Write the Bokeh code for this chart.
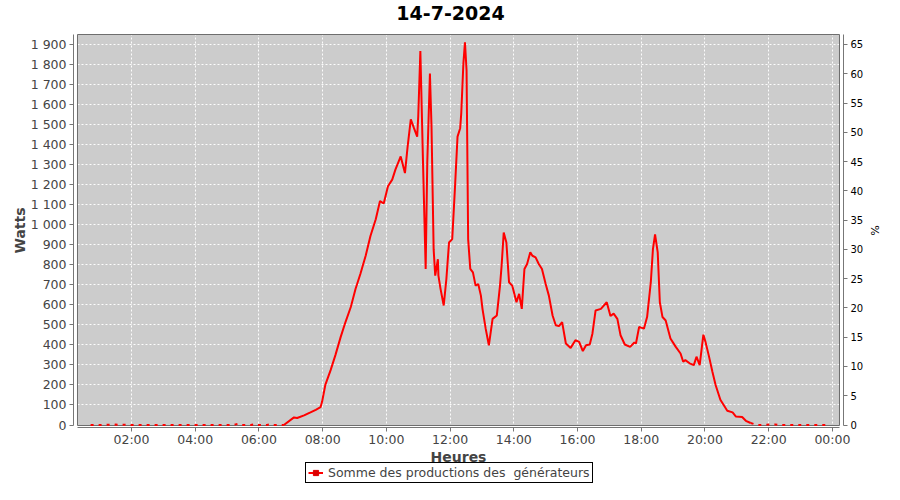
from bokeh.plotting import figure
from bokeh.layouts import column
from bokeh.models import (Range1d, LinearAxis, FixedTicker, Legend, Label,
                          LegendItem, ColumnDataSource)
from bokeh.embed import file_html
from bokeh.resources import INLINE

TITLE = "14-7-2024"
X_LABEL = "Heures"
Y_LABEL = "Watts"
Y2_LABEL = "%"
SERIES_NAME = "Somme des productions des  générateurs"

times = ["00:43","01:00","01:30","02:00","03:00","04:00","05:00","05:12","05:20","05:27",
         "05:45","05:52","05:57","06:15","06:22","06:27","06:47","07:06","07:12","07:25",
         "07:37","07:47","07:56","07:59","08:05","08:15","08:24","08:34","08:43","08:53",
         "09:02","09:11","09:21","09:30","09:40","09:48","09:55","10:03","10:11","10:17",
         "10:27","10:35","10:40","10:46","10:52","10:58","11:00","11:04","11:09","11:14",
         "11:17","11:22","11:25","11:29","11:32","11:37","11:38","11:42","11:48","11:53",
         "11:58","12:04","12:09","12:14","12:19","12:21","12:25","12:28","12:31","12:34",
         "12:38","12:43","12:48","12:53","12:58","13:01","13:07","13:13","13:20","13:28",
         "13:34","13:37","13:41","13:46","13:51","13:57","14:05","14:10","14:15","14:20",
         "14:25","14:31","14:35","14:41","14:47","14:53","15:00","15:06","15:13","15:19",
         "15:25","15:31","15:38","15:47","15:56","16:03","16:10","16:16","16:23","16:28",
         "16:34","16:44","16:55","17:02","17:08","17:15","17:21","17:29","17:39","17:47",
         "17:50","17:56","18:05","18:11","18:18","18:22","18:26","18:31","18:35","18:40",
         "18:46","18:55","19:05","19:14","19:19","19:23","19:31","19:39","19:44","19:50",
         "19:57","20:01","20:07","20:14","20:20","20:29","20:42","20:52","20:58","21:10",
         "21:17","21:26","21:32","21:39","22:12","22:18","23:00","23:48"]

watts = [0, 0, 2, 0, 0, 0, 0, 0, 6, 0,
         0, 5, 0, 0, 4, 0, 0, 38, 35, 48,
         63, 76, 89, 117, 200, 274, 349, 440, 514, 589,
         680, 754, 845, 944, 1027, 1118, 1106, 1192, 1225, 1275,
         1341, 1258, 1390, 1526, 1482, 1440, 1540, 1867, 1310, 779,
         1310, 1755, 1490, 878, 746, 828, 746, 680, 597, 729,
         911, 928, 1176, 1440, 1482, 1556, 1804, 1911, 1771, 928,
         779, 762, 696, 704, 646, 580, 481, 398, 530, 547,
         696, 795, 961, 911, 713, 696, 613, 655, 580, 779,
         804, 862, 845, 837, 804, 779, 704, 646, 547, 498,
         494, 514, 407, 385, 423, 415, 369, 398, 402, 456,
         572, 580, 613, 544, 556, 530, 448, 402, 390, 412,
         407, 490, 481, 539, 713, 878, 952, 862, 613, 539,
         522, 432, 390, 357, 316, 324, 308, 299, 341, 299,
         451, 415, 349, 266, 200, 126, 71, 63, 43, 40,
         21, 10, 5, 0, 3, 0, 0, 0]

x_ticks = [2, 4, 6, 8, 10, 12, 14, 16, 18, 20, 22, 24]
x_tick_labels = ["02:00", "04:00", "06:00", "08:00", "10:00", "12:00",
                 "14:00", "16:00", "18:00", "20:00", "22:00", "00:00"]
y_ticks = list(range(0, 2000, 100))
y_tick_labels = ["0", "100", "200", "300", "400", "500", "600", "700", "800", "900",
                 "1 000", "1 100", "1 200", "1 300", "1 400", "1 500", "1 600",
                 "1 700", "1 800", "1 900"]
pct_ticks = list(range(0, 70, 5))
PCT_PER_WATT = 65 / 1900

hours = [int(t[:2]) + int(t[3:]) / 60 for t in times]

# split into solid daytime part and dashed night parts
start = next(i for i in range(len(watts) - 1) if watts[i + 1] >= 20)
end = max(i for i in range(1, len(watts)) if watts[i - 1] >= 20)

FONT = "DejaVu Sans"
W = 884
BORDER_L, BORDER_R = 73, 41
TOP_H = 33      # title strip
MAIN_H = 416    # plot with axes
BOT_H = 484 - TOP_H - MAIN_H  # axis title + legend strip


def strip(height):
    # frame of the strip is aligned with the main plot frame by the column;
    # its x range is expressed in page pixels
    f = figure(width=W, height=height, output_backend="svg", toolbar_location=None,
               title=None,
               x_range=Range1d(BORDER_L, W - BORDER_R), y_range=Range1d(height, 0),
               x_axis_location=None, y_axis_location=None,
               min_border=0, min_border_left=BORDER_L, min_border_right=BORDER_R,
               min_border_top=0, min_border_bottom=0)
    f.outline_line_color = None
    f.grid.visible = False
    f.background_fill_color = "white"
    f.border_fill_color = "white"
    return f


# ---------- title strip ----------
top = strip(TOP_H)
top.add_layout(Label(x=450, y=12, text=TITLE, text_align="center",
                     text_baseline="middle", text_font=FONT,
                     text_font_size="19px", text_font_style="bold",
                     text_color="black"))

# ---------- main plot ----------
XR = (0.1796, 24.348)
YR = (-12.42, 1954.7)
AREA = dict(left=0.305, right=24.222, bottom=-2.48, top=1949.7)

p = figure(width=W, height=MAIN_H, output_backend="svg", toolbar_location=None,
           title=None,
           x_range=Range1d(*XR), y_range=Range1d(*YR),
           min_border_left=BORDER_L, min_border_right=BORDER_R, min_border_top=0,
           min_border_bottom=20)
p.outline_line_color = None
p.background_fill_color = "white"
p.border_fill_color = "white"
p.extra_y_ranges = {"pct": Range1d(YR[0] * PCT_PER_WATT, YR[1] * PCT_PER_WATT)}

p.quad(left=[AREA["left"]], right=[AREA["right"]], bottom=[AREA["bottom"]],
       top=[AREA["top"]], fill_color="#cccccc", line_color=None, level="image")

p.xgrid.ticker = FixedTicker(ticks=x_ticks)
p.ygrid.ticker = FixedTicker(ticks=y_ticks)
for g in (p.xgrid, p.ygrid):
    g.grid_line_color = "white"
    g.grid_line_dash = "2 2"
    g.grid_line_width = 1
    g.grid_line_alpha = 0.95

p.quad(left=[AREA["left"]], right=[AREA["right"]], bottom=[AREA["bottom"]],
       top=[AREA["top"]], fill_color=None, line_color="#6e6e6e", line_width=1)

src_day = ColumnDataSource(dict(x=hours[start:end + 1], y=watts[start:end + 1]))
src_n1 = ColumnDataSource(dict(x=hours[:start + 1], y=watts[:start + 1]))
src_n2 = ColumnDataSource(dict(x=hours[end:], y=watts[end:]))

p.line("x", "y", source=src_day, line_color="#ff0000", line_width=2)
p.line("x", "y", source=src_n1, line_color="#ff0000", line_width=2, line_dash="3 5")
p.line("x", "y", source=src_n2, line_color="#ff0000", line_width=2, line_dash="3 5")

xa = p.xaxis[0]
xa.ticker = FixedTicker(ticks=x_ticks)
xa.major_label_overrides = dict(zip(x_ticks, x_tick_labels))
xa.bounds = (AREA["left"], AREA["right"])

ya = p.yaxis[0]
ya.ticker = FixedTicker(ticks=y_ticks)
ya.major_label_overrides = dict(zip(y_ticks, y_tick_labels))
ya.bounds = (AREA["bottom"], AREA["top"])
ya.axis_label = Y_LABEL

ra = LinearAxis(y_range_name="pct", ticker=FixedTicker(ticks=pct_ticks),
                axis_label=Y2_LABEL,
                bounds=(AREA["bottom"] * PCT_PER_WATT, AREA["top"] * PCT_PER_WATT))
p.add_layout(ra, "right")

for ax in (xa, ya, ra):
    ax.axis_line_color = "#777777"
    ax.major_tick_line_color = "#777777"
    ax.major_tick_out = 4
    ax.major_tick_in = 0
    ax.minor_tick_line_color = None
    ax.major_label_text_font = FONT
    ax.axis_label_text_font = FONT

for ax in (xa, ya):
    ax.major_label_text_font_size = "12.5px"
    ax.major_label_text_color = "#444444"
    ax.axis_label_text_font_size = "14px"
    ax.axis_label_text_font_style = "bold"
    ax.axis_label_text_color = "#444444"

xa.major_label_standoff = 0
ya.major_label_standoff = 3
ya.axis_label_standoff = 0

ra.major_label_standoff = 3
ra.major_label_text_font_size = "10px"
ra.major_label_text_color = "black"
ra.axis_label_text_font_size = "11px"
ra.axis_label_text_font_style = "normal"
ra.axis_label_text_color = "black"
ra.axis_label_standoff = 2

# ---------- axis title + legend strip ----------
bot = strip(BOT_H)
bot.add_layout(Label(x=458, y=7, text=X_LABEL, text_align="center",
                     text_baseline="middle", text_font=FONT,
                     text_font_size="14px", text_font_style="bold",
                     text_color="#444444"))
# legend swatches (off-screen sample so that the legend draws them)
leg_line = bot.line(x=[-100, -90], y=[-100, -100], line_color="#ff0000", line_width=2)
leg_mark = bot.scatter(x=[-100], y=[-100], marker="square", size=4,
                       fill_color="#dd0000", line_color="#dd0000")
legend = Legend(items=[LegendItem(label=SERIES_NAME, renderers=[leg_line, leg_mark])],
                location=(305 - BORDER_L, 1), orientation="horizontal",
                border_line_color="black", border_line_width=1, border_line_alpha=1,
                background_fill_color="white", background_fill_alpha=1,
                padding=2, spacing=0, margin=0, label_standoff=5,
                glyph_width=15, glyph_height=13, label_height=13,
                label_text_font=FONT, label_text_font_size="12.5px",
                label_text_color="#444444")
bot.add_layout(legend)

layout = column(top, p, bot, spacing=0)
open("out.html", "w").write(file_html(layout, INLINE))
